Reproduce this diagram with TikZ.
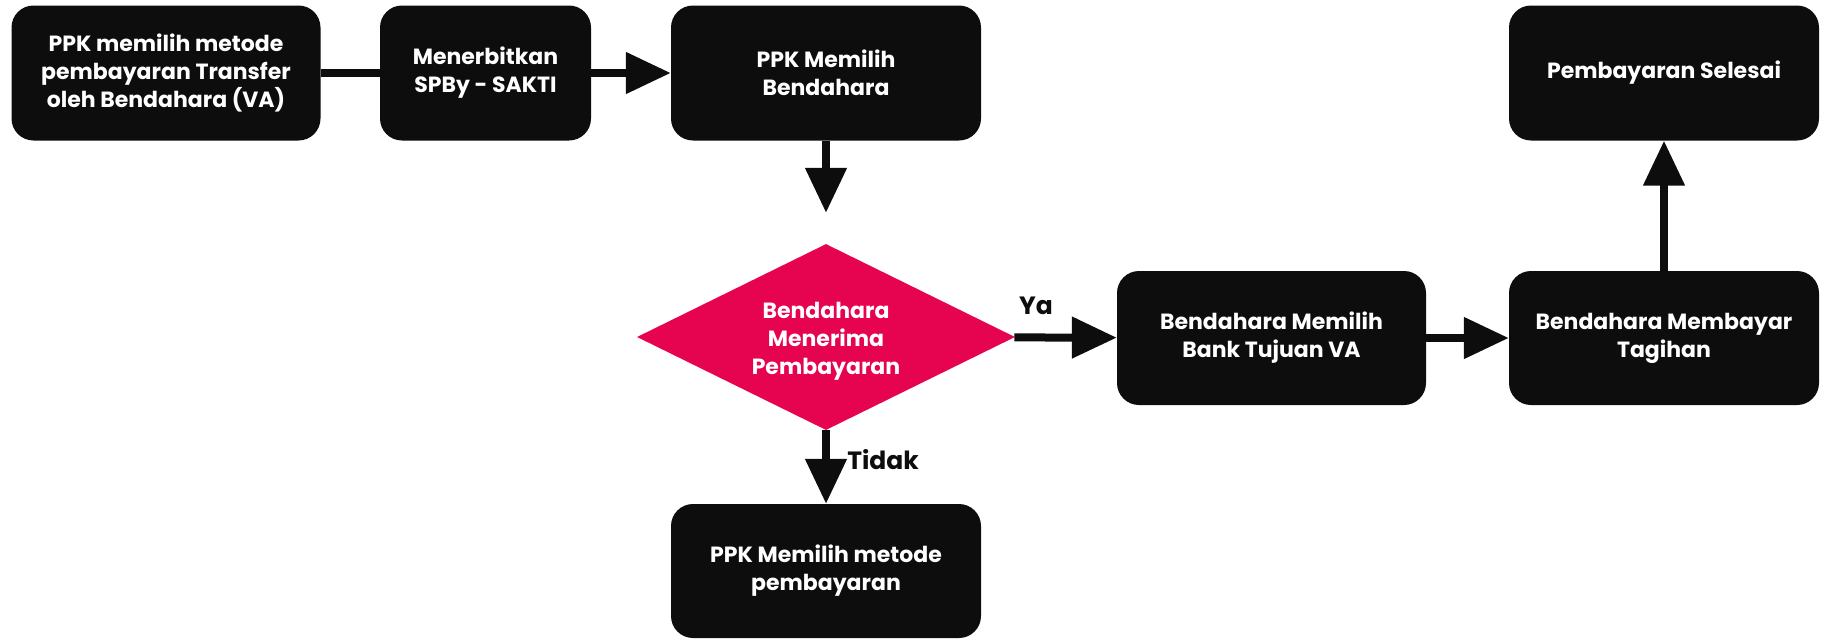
\documentclass[tikz,border=0pt]{standalone}
\usepackage{fontspec}
\setmainfont{Poppins}
\usetikzlibrary{shapes.geometric,arrows.meta}
\definecolor{boxblack}{HTML}{0D0D0D}
\definecolor{decisionred}{HTML}{E6034F}
\begin{document}
\begin{tikzpicture}[x=1pt,y=-1pt,
  stepbox/.style={draw=none, fill=boxblack, rounded corners=22pt, text=white,
    minimum height=135pt, align=center, inner sep=0pt,
    font=\fontsize{22}{28}\selectfont\bfseries},
  decision/.style={diamond, fill=decisionred, inner sep=0pt,
    minimum width=378pt, minimum height=186pt},
  decisiontext/.style={text=white, align=center,
    font=\fontsize{22}{28}\selectfont\bfseries},
  flow/.style={line width=8pt, draw=boxblack, -{Triangle[length=45pt,width=40pt]}},
  plain/.style={line width=8pt, draw=boxblack},
  branch/.style={font=\fontsize{25}{28}\selectfont\bfseries, text=boxblack}]
\useasboundingbox (0,0) rectangle (1824,638);

\node[stepbox, minimum width=309pt] (b1) at (166,73)
  {PPK memilih metode\\pembayaran Transfer\\oleh Bendahara (VA)};
\node[stepbox, minimum width=211pt] (b2) at (485.5,73)
  {Menerbitkan\\SPBy - SAKTI};
\node[stepbox, minimum width=310pt] (b3) at (826,73)
  {PPK Memilih\\Bendahara};
% decision diamond keeps its fixed size; its text is placed on top
\node[decision] (dia) at (826,337) {};
\node[decisiontext] (diatext) at (826,341) {Bendahara\\Menerima\\Pembayaran};
\node[stepbox, minimum width=309pt, minimum height=134pt] (bank) at (1271.5,338)
  {Bendahara Memilih\\Bank Tujuan VA};
\node[stepbox, minimum width=310pt, minimum height=134pt] (pay) at (1664,338)
  {Bendahara Membayar\\Tagihan};
\node[stepbox, minimum width=310pt] (done) at (1664,73)
  {Pembayaran Selesai};
\node[stepbox, minimum width=310pt, minimum height=134pt] (alt) at (826,571)
  {PPK Memilih metode\\pembayaran};

\draw[plain] (b1) -- (b2);
\draw[flow] (b2) -- (b3);
\draw[flow, shorten >=31pt] (b3) -- (dia);
\draw[flow] (dia) -- node[branch, pos=0.21, above=15pt] (ya) {Ya} (bank);
\draw[flow] (bank) -- (pay);
\draw[flow] (pay) -- (done);
\draw[flow] (dia) -- node[branch, pos=0.4, right=14pt] (tidak) {Tidak} (alt);
\end{tikzpicture}
\end{document}
